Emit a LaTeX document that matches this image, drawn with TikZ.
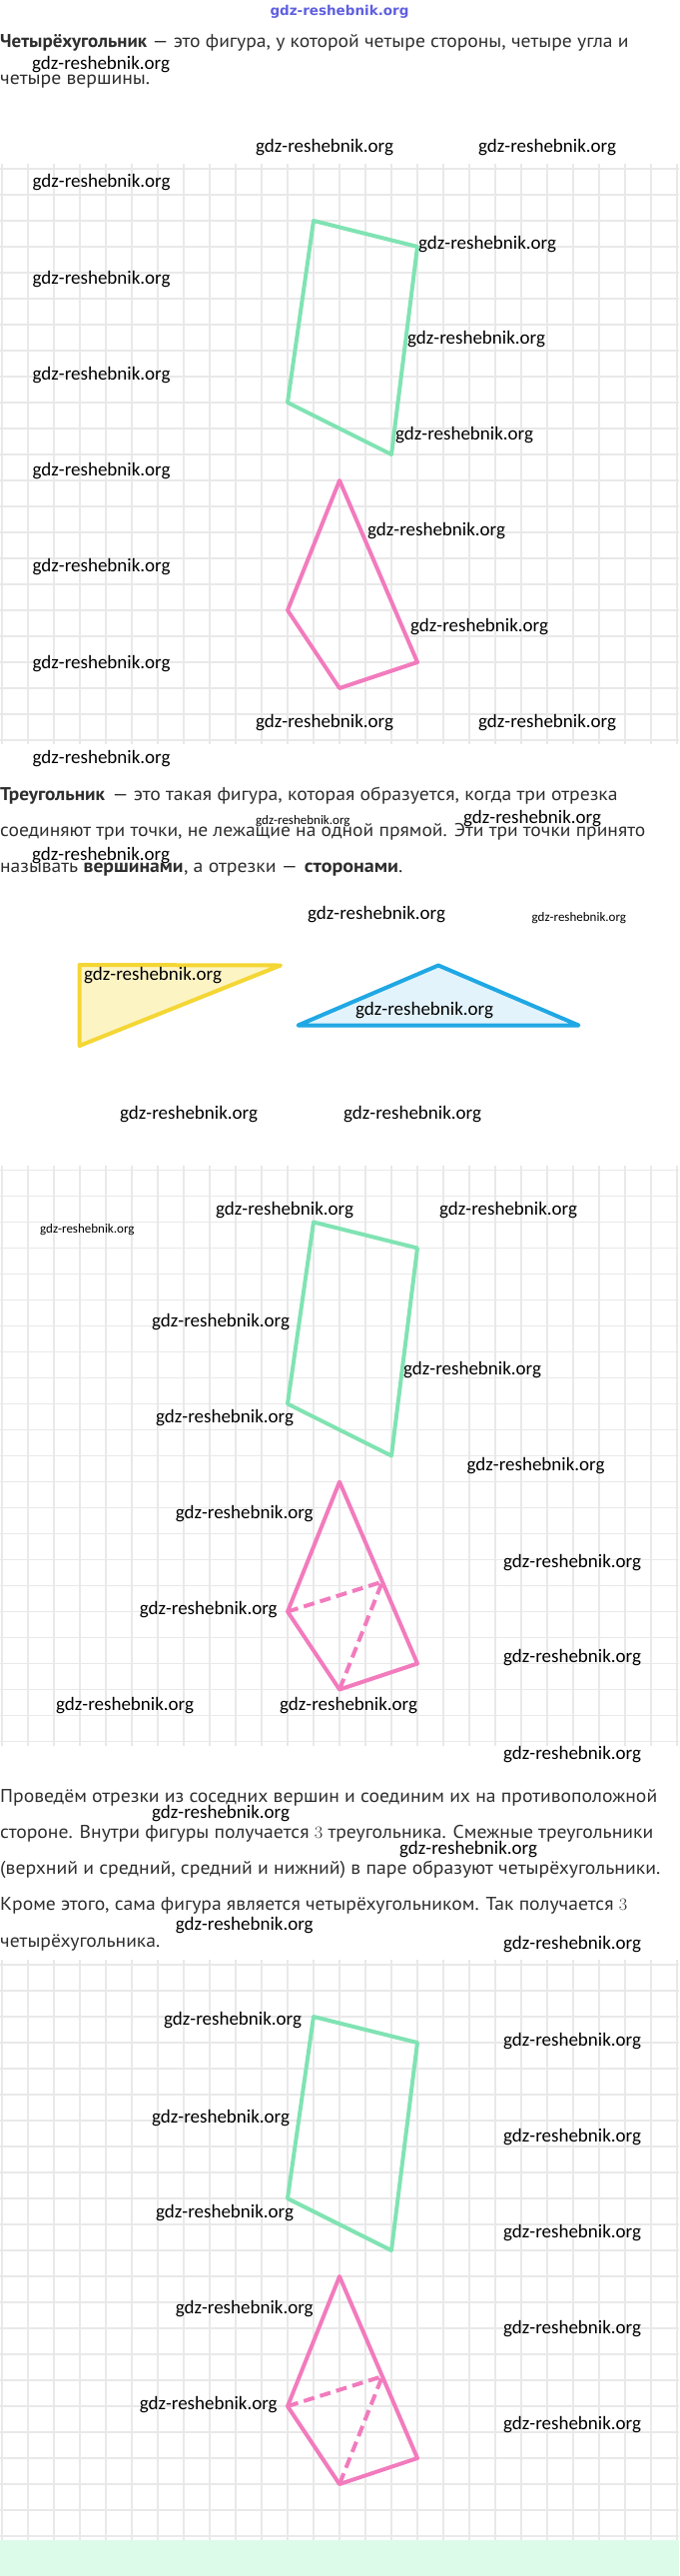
\documentclass[tikz,border=0pt]{standalone}
\usepackage{fontspec}
\setmainfont{PT Sans}
\newfontfamily\wmfont{Carlito}
\newfontfamily\logofont{DejaVu Sans}
\usetikzlibrary{positioning}

\definecolor{gridgray}{RGB}{233,233,233}
\definecolor{quadgreen}{RGB}{128,227,179}
\definecolor{quadpink}{RGB}{242,123,189}
\definecolor{triyellow}{RGB}{244,214,52}
\definecolor{triyellowfill}{RGB}{253,244,196}
\definecolor{triblue}{RGB}{32,168,228}
\definecolor{tribluefill}{RGB}{227,243,252}
\definecolor{mintband}{RGB}{220,252,233}
\definecolor{logoblue}{RGB}{95,95,225}

% a piece of text, stretched to the width it has in print
\newcommand{\fitline}[2]{\resizebox{#1}{\height}{#2}}

\begin{document}
\begin{tikzpicture}[x=1pt,y=-1pt,
    gridline/.style={gridgray,line width=1.4pt},
    greenline/.style={quadgreen,line width=4pt,line join=round},
    pinkline/.style={quadpink,line width=4pt,line join=round},
    body/.style={anchor=west,inner sep=0pt,text=black!82,text height=13pt,text depth=4pt,
                 font=\fontsize{18.5}{22}\selectfont},
    wm/.style={anchor=west,inner sep=0pt,font=\wmfont\fontsize{19}{19}\selectfont},
    wmsmall/.style={anchor=west,inner sep=0pt,font=\wmfont\fontsize{13}{13}\selectfont}]

  \useasboundingbox (0,0) rectangle (680,2579);

  % squared paper
  \foreach \gy in {169,1171.5,1967}{
    \foreach \k in {0,...,22}
      \draw[gridline] (0,\gy+26*\k) -- (680,\gy+26*\k);
    \foreach \j in {0,...,26}
      \draw[gridline] (2+26*\j,\gy-5) -- (2+26*\j,\gy+576);
  }
  \fill[mintband] (0,2543) rectangle (680,2579);

  \node[font=\logofont\bfseries\fontsize{13.5}{13.5}\selectfont,text=logoblue] (logo) at (340,12) {gdz-reshebnik.org};

  % text
  \node[body] (def1a) at (0,43) {\fitline{147pt}{\textbf{Четырёхугольник}}};
  \node[body,right=5pt of def1a] (def1r) {\fitline{477pt}{— это фигура, у которой четыре стороны, четыре угла и}};
  \node[body] (def1b) at (0,80) {\fitline{150pt}{четыре вершины.}};
  \node[body] (def2a) at (0,797) {\fitline{105pt}{\textbf{Треугольник}}};
  \node[body,right=7pt of def2a] (def2r) {\fitline{506pt}{— это такая фигура, которая образуется, когда три отрезка}};
  \node[body] (def2b) at (0,833) {\fitline{646pt}{соединяют три точки, не лежащие на одной прямой. Эти три точки принято}};
  \node[body] (def2c) at (0,869) {\fitline{78pt}{называть}};
  \node[body,right=5pt of def2c] (def2d) {\fitline{100pt}{\textbf{вершинами}}};
  \node[body,right=0pt of def2d] (def2e) {\fitline{114pt}{, а отрезки —}};
  \node[body,right=6.5pt of def2e] (def2f) {\fitline{98.5pt}{\textbf{сторонами}.}};
  \node[body] (txt3a) at (0,1800) {\fitline{658pt}{Проведём отрезки из соседних вершин и соединим их на противоположной}};
  \node[body] (txt3b) at (0,1836) {\fitline{654pt}{стороне. Внутри фигуры получается $3$ треугольника. Смежные треугольники}};
  \node[body] (txt3c) at (0,1872) {\fitline{661pt}{(верхний и средний, средний и нижний) в паре образуют четырёхугольники.}};
  \node[body] (txt3d) at (0,1908) {\fitline{628pt}{Кроме этого, сама фигура является четырёхугольником. Так получается $3$}};
  \node[body] (txt3e) at (0,1945) {\fitline{160pt}{четырёхугольника.}};

  % quadrilaterals on the grid
  \foreach \s/\gy in {1/169,2/1171.5,3/1967}{
    \begin{scope}[shift={(2,\gy)},x=26pt,y=-26pt]
      \coordinate (g\s a) at (12,2);
      \coordinate (g\s b) at (16,3);
      \coordinate (g\s c) at (15,11);
      \coordinate (g\s d) at (11,9);
      \draw[greenline] (g\s a) -- (g\s b) -- (g\s c) -- (g\s d) -- cycle;
      \coordinate (p\s a) at (13,12);
      \coordinate (p\s b) at (16,19);
      \coordinate (p\s c) at (13,20);
      \coordinate (p\s d) at (11,17);
      \draw[pinkline] (p\s a) -- (p\s b) -- (p\s c) -- (p\s d) -- cycle;
      \ifnum\s>1
        \coordinate (p\s m) at (14.65,15.85);
        \draw[pinkline,dash pattern=on 11pt off 6pt] (p\s d) -- (p\s m) -- (p\s c);
      \fi
    \end{scope}
  }

  % triangles
  \coordinate (ya) at (79.5,966);
  \coordinate (yb) at (281,966.5);
  \coordinate (yc) at (79.5,1047);
  \draw[triyellow,fill=triyellowfill,line width=4pt,line join=round] (ya) -- (yb) -- (yc) -- cycle;
  \coordinate (ba) at (439,966.5);
  \coordinate (bb) at (298.5,1026.5);
  \coordinate (bc) at (579.5,1026.5);
  \draw[triblue,fill=tribluefill,line width=4pt,line join=round] (ba) -- (bb) -- (bc) -- cycle;

  % watermarks
  \foreach \x/\y [count=\n] in {32/65,256/148,479/148,32.5/183,419/245,32.5/280,
      408/340,32.5/376,396/436,32.5/472,368/532,32.5/568,411/628,32.5/665,
      256/724,479/724,32.5/760,464/820,32/857,308/916,84/977,356/1012,
      120/1116,344/1116,216/1212,440/1212,152/1324,404/1372,156/1420,
      467.5/1468,175.6/1516,504/1565,139.6/1612,504/1660,56/1708,280/1708,
      504/1757,152/1816,400/1852,175.6/1928,504/1947,164/2023,504/2044,
      152/2121,504/2140,156/2216,504/2236,175.6/2312,504/2332,139.6/2408,
      504/2428}
    \node[wm] (wm\n) at (\x,\y) {gdz-reshebnik.org};
  \foreach \x/\y [count=\n] in {256/822,532.5/919,40/1231}
    \node[wmsmall] (wms\n) at (\x,\y) {gdz-reshebnik.org};
\end{tikzpicture}
\end{document}
